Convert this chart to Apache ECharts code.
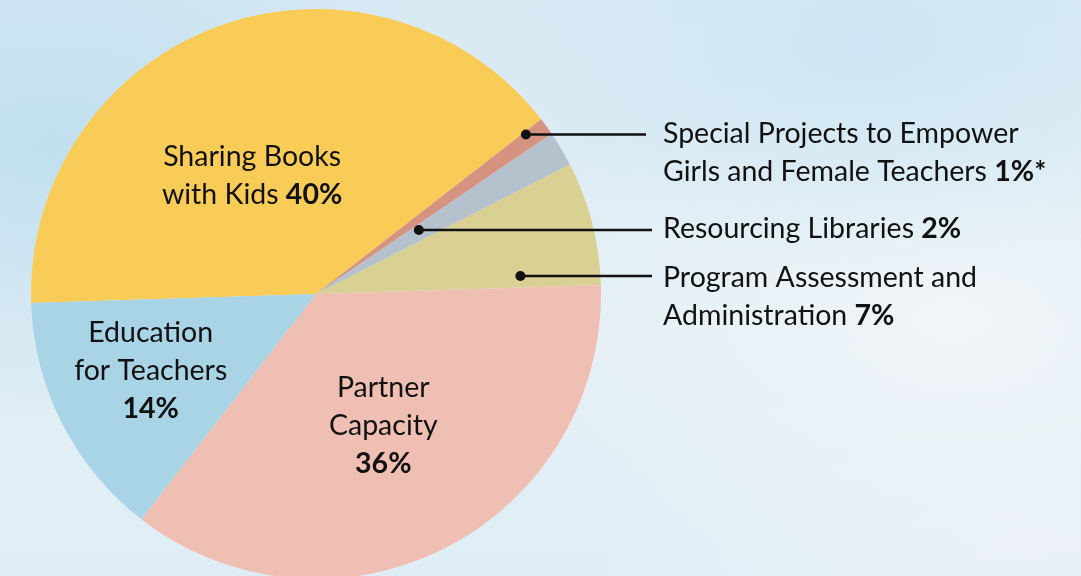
<!DOCTYPE html>
<html>
<head>
<meta charset="utf-8">
<script src="https://cdn.jsdelivr.net/npm/echarts@6/dist/echarts.min.js"></script>
<style>
html,body{margin:0;padding:0;}
#chart{width:1081px;height:576px;
background:
 radial-gradient(ellipse 40% 50% at 5% 25%, rgba(190,222,238,0.9) 0%, rgba(190,222,238,0) 100%),
 radial-gradient(ellipse 35% 40% at 80% 8%, rgba(205,230,243,0.9) 0%, rgba(205,230,243,0) 100%),
 radial-gradient(ellipse 45% 45% at 88% 55%, rgba(240,245,248,0.95) 0%, rgba(240,245,248,0) 100%),
 radial-gradient(ellipse 40% 40% at 95% 95%, rgba(236,242,246,0.9) 0%, rgba(236,242,246,0) 100%),
 linear-gradient(180deg,#d9eaf4 0%,#e2eef5 60%,#dfeef6 100%);}
</style>
</head>
<body>
<div id="chart"></div>
<script>
// ---- data ----
const categories = ['Sharing Books with Kids', 'Special Projects to Empower Girls and Female Teachers', 'Resourcing Libraries', 'Program Assessment and Administration', 'Partner Capacity', 'Education for Teachers'];
const values = [40, 1, 2, 7, 36, 14];
const labelTemplates = ['Sharing Books\nwith Kids {p}', 'Special Projects to Empower\nGirls and Female Teachers {p}', 'Resourcing Libraries {p}', 'Program Assessment and\nAdministration {p}', 'Partner\nCapacity\n{p}', 'Education\nfor Teachers\n{p}'];
const valueSuffix = ['%', '%*', '%', '%', '%', '%'];
const colors = ['#F9CC57', '#D6937F', '#B5C1CD', '#D9D093', '#F0BFB4', '#A9D4E6'];

// ---- layout ----
const CX = 316, CY = 294, R = 285, START = 181.8;
const total = values.reduce((a, b) => a + b, 0);
const midAngles = [];
(function () { let a = START; values.forEach(v => { const span = v / total * 360; midAngles.push(a - span / 2); a -= span; }); })();
function polar(angDeg, r) { const t = angDeg * Math.PI / 180; return [CX + r * Math.cos(t), CY - r * Math.sin(t)]; }

// outside-label layout (per index): dot radius fraction, leader y, label top, leader end x
const outside = {
  1: { rf: 0.925, lineY: 134.5, top: 115, endX: 646 },
  2: { rf: 0.425, lineY: 230, top: 210, endX: 652 },
  3: { rf: 0.72, lineY: 276, top: 259, endX: 652 }
};
function dotPos(i) {
  const o = outside[i];
  const r = o.rf * R;
  const ang = Math.asin((CY - o.lineY) / r);
  return [CX + r * Math.cos(ang), o.lineY];
}
// inside-label layout: radius fraction, angle shift
const inside = { 0: { rf: 0.47, da: 8.7 }, 4: { rf: 0.52, da: 0 }, 5: { rf: 0.64, da: -2 } };

const data = categories.map((c, i) => ({
  name: c, value: values[i],
  itemStyle: { color: colors[i] },
  label: { position: outside[i] ? 'outside' : 'inside', align: outside[i] ? 'left' : 'center' },
  labelLine: { show: false }
}));

const graphics = [];
Object.keys(outside).forEach(k => {
  const i = +k, o = outside[i], p = dotPos(i);
  graphics.push({ type: 'line', z: 100, shape: { x1: p[0], y1: p[1], x2: o.endX, y2: o.lineY }, style: { stroke: '#111', lineWidth: 2.5 } });
  graphics.push({ type: 'circle', z: 101, shape: { cx: p[0], cy: p[1], r: 5 }, style: { fill: '#111' } });
});

const chart = echarts.init(document.getElementById('chart'), null, { renderer: 'canvas' });
const FONT = 'Lato, "Open Sans", sans-serif';
const FS = 28.5;
chart.setOption({
  backgroundColor: 'transparent',
  animation: false,
  graphic: graphics,
  series: [{
    type: 'pie',
    center: [CX, CY],
    radius: [0, R],
    startAngle: START,
    clockwise: true,
    silent: true,
    emphasis: { disabled: true },
    itemStyle: { borderWidth: 0 },
    data: data,
    label: {
      show: true,
      fontFamily: FONT,
      fontSize: FS,
      lineHeight: 38,
      color: '#111',
      formatter: p => labelTemplates[p.dataIndex].replace('{p}', '{b|' + values[p.dataIndex] + valueSuffix[p.dataIndex] + '}'),
      rich: { b: { fontFamily: FONT, fontSize: FS, lineHeight: 38, fontWeight: 'bold', color: '#111' } }
    },
    labelLine: { show: false },
    labelLayout: function (params) {
      const i = params.dataIndex;
      if (outside[i]) {
        return { x: 663, y: outside[i].top, align: 'left', verticalAlign: 'top' };
      }
      const s = inside[i];
      const p = polar(midAngles[i] + s.da, s.rf * R);
      return { x: p[0], y: p[1], align: 'center', verticalAlign: 'middle' };
    }
  }]
});
</script>
</body>
</html>
